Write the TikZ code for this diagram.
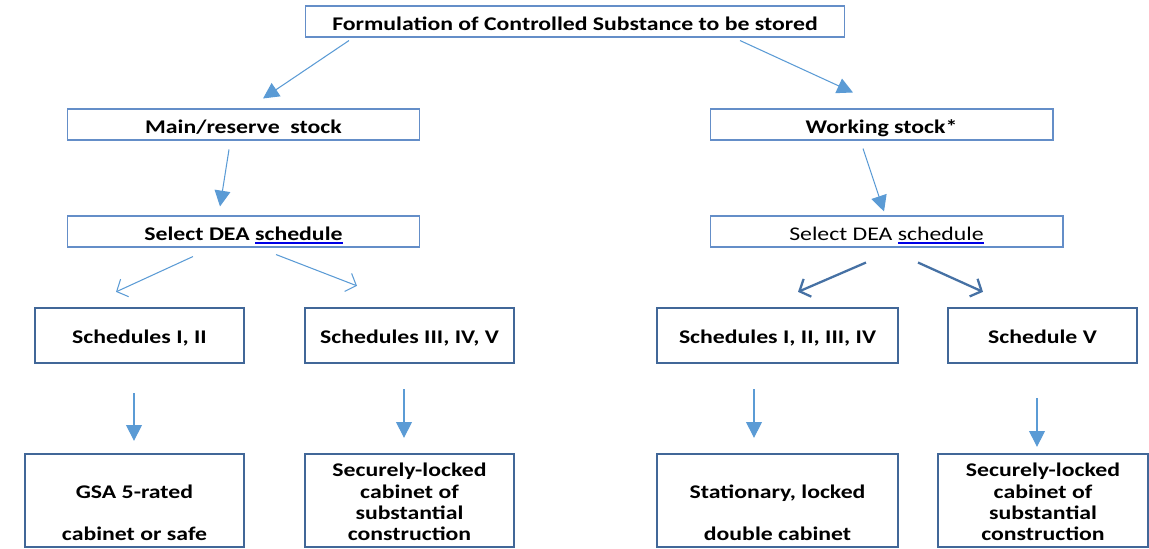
\documentclass[tikz,border=0pt]{standalone}
\usepackage{fontspec}
\setmainfont{Carlito}[FakeStretch=1.23]
\usetikzlibrary{arrows.meta}
\definecolor{thinblue}{RGB}{100,142,200}
\definecolor{darkblue}{RGB}{65,103,152}
\definecolor{arrblue}{RGB}{91,155,213}
\definecolor{linkblue}{RGB}{0,0,230}
\newcommand{\schedword}{\sbox0{schedule}\usebox0\llap{\color{linkblue}\rule[-1.9pt]{\wd0}{0.9pt}}}
\newcommand{\tstrut}{\rule[-3.63pt]{0pt}{17.5pt}}
\newcommand{\fstrut}{\rule{0pt}{13pt}}
\begin{document}
\begin{tikzpicture}[x=0.02cm,y=-0.02cm,font=\fontsize{11}{12.1}\selectfont\bfseries,
  thinbox/.style={draw=thinblue,line width=0.6pt,minimum height=0.62cm,inner sep=0pt},
  thickbox/.style={draw=darkblue,line width=1.3pt,inner sep=0pt,align=center},
  arr/.style={arrblue,line width=0.6pt,-{Triangle[length=9pt,width=9pt]}},
  barb/.style={arrblue,line width=0.6pt,-{Straight Barb[length=5pt,width=11pt]}}]
  \useasboundingbox (0,0) rectangle (1149,548);
  % top levels
  \node[thinbox,minimum width=10.8cm] (form) at (575,21.5) {\tstrut Formulation of Controlled Substance to be stored};
  \node[thinbox,minimum width=7.06cm] (main) at (243.5,124.5) {\tstrut Main/reserve\ \ stock};
  \node[thinbox,minimum width=6.86cm] (work) at (881.5,124.5) {\tstrut Working stock*};
  \node[thinbox,minimum width=7.06cm] (selL) at (243.5,231.5) {\tstrut Select DEA \schedword};
  \node[thinbox,minimum width=7.06cm,font=\fontsize{11}{12.1}\selectfont] (selR) at (886.5,231.5) {\tstrut Select DEA \schedword};
  % schedules
  \node[thickbox,minimum width=4.18cm,minimum height=1.1cm] (schA) at (139.5,335.5) {\fstrut\strut Schedules I, II};
  \node[thickbox,minimum width=4.18cm,minimum height=1.1cm] (schB) at (409.5,335.5) {\fstrut\strut Schedules III, IV, V};
  \node[thickbox,minimum width=4.82cm,minimum height=1.1cm] (schC) at (777.5,335.5) {\fstrut\strut Schedules I, II, III, IV};
  \node[thickbox,minimum width=3.78cm,minimum height=1.1cm] (schD) at (1042.5,335.5) {\fstrut\strut Schedule V};
  % storage
  \node[thickbox,minimum width=4.38cm,minimum height=1.86cm] (cabA) at (134.5,500.5) {\fstrut\\\strut GSA 5-rated\\\strut\\\strut cabinet or safe};
  \node[thickbox,minimum width=4.18cm,minimum height=1.86cm] (cabB) at (409.5,500.5) {\fstrut Securely-locked\\\strut cabinet of\\\strut substantial\\\strut construction};
  \node[thickbox,minimum width=4.82cm,minimum height=1.86cm] (cabC) at (777.5,500.5) {\fstrut\\\strut Stationary, locked\\\strut\\\strut double cabinet};
  \node[thickbox,minimum width=4.2cm,minimum height=1.86cm] (cabD) at (1043,500.5) {\fstrut Securely-locked\\\strut cabinet of\\\strut substantial\\\strut construction};
  % arrows
  \draw[arr] ([shift={(-226,3)}]form.south) -- ([shift={(19.5,-10)}]main.north);
  \draw[arr] ([shift={(165,3)}]form.south) -- ([shift={(-28.5,-16)}]work.north);
  \draw[arr] ([shift={(-14.5,9)}]main.south) -- ([shift={(-23.5,-9)}]selL.north);
  \draw[arr] ([shift={(-18.5,8)}]work.south) -- ([shift={(-2.5,-4)}]selR.north);
  \draw[barb] ([shift={(-50.5,9)}]selL.south) -- ([shift={(-23.5,-15)}]schA.north);
  \draw[barb] ([shift={(32.5,7)}]selL.south) -- ([shift={(-52.5,-21)}]schB.north);
  \draw[barb,line width=1.3pt,draw=darkblue!80!arrblue] ([shift={(-20.5,15)}]selR.south) -- ([shift={(20.5,-15)}]schC.north);
  \draw[barb,line width=1.3pt,draw=darkblue!80!arrblue] ([shift={(31.5,15)}]selR.south) -- ([shift={(-59.5,-15)}]schD.north);
  \draw[arr] ([shift={(-5.5,29)}]schA.south) -- ([shift={(-0.5,-12)}]cabA.north);
  \draw[arr] ([shift={(-5.5,25)}]schB.south) -- ([shift={(-5.5,-15)}]cabB.north);
  \draw[arr] ([shift={(-23.5,25)}]schC.south) -- ([shift={(-23.5,-15)}]cabC.north);
  \draw[arr] ([shift={(-5.5,34)}]schD.south) -- ([shift={(-6,-6)}]cabD.north);
\end{tikzpicture}
\end{document}
